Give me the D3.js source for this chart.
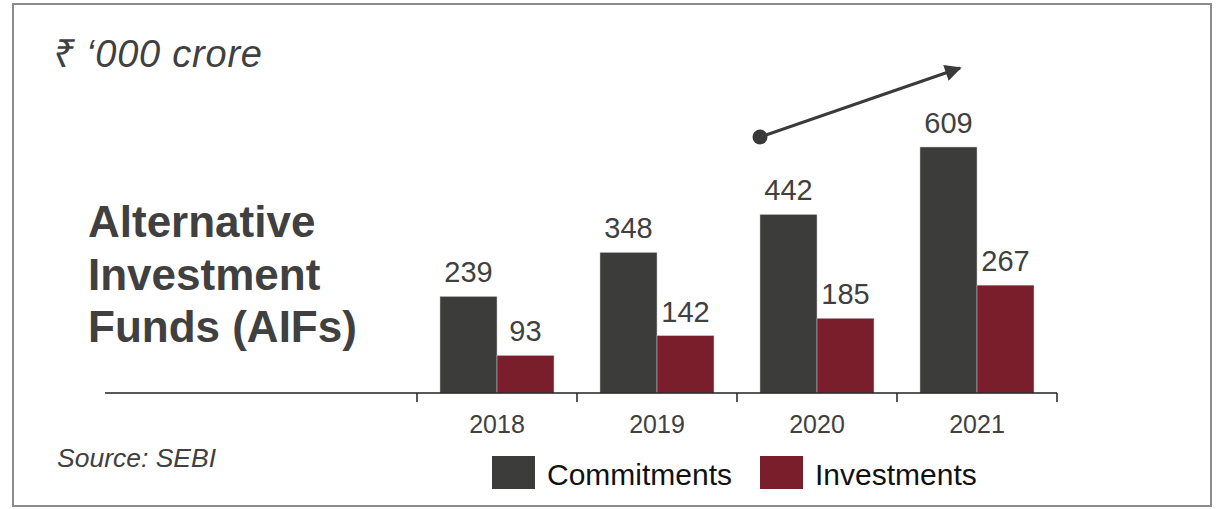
<!DOCTYPE html>
<html lang="en">
<head>
<meta charset="UTF-8">
<title>Alternative Investment Funds (AIFs)</title>
<style>
  body { margin: 0; background: #fff; }
  text { font-family: "Liberation Sans", Arial, "Noto Sans", sans-serif; }
</style>
</head>
<body>
<script src="https://d3js.org/d3.v7.min.js"></script>
<div id="my_dataviz"></div>
<script>

// data
var years = ["2018", "2019", "2020", "2021"];
var seriesNames = ["Commitments", "Investments"];
var commitments = [239, 348, 442, 609];
var investments = [93, 142, 185, 267];
var titleLines = ["Alternative", "Investment", "Funds (AIFs)"];

var colors = { Commitments: "#3c3c3b", Investments: "#7a1e2b" };

var W = 1223, H = 509;
var baseY = 393;

var svg = d3.select("#my_dataviz")
  .append("svg")
    .attr("width", W)
    .attr("height", H);

// outer frame
svg.append("rect")
  .attr("x", 13).attr("y", 4)
  .attr("width", 1198).attr("height", 502)
  .attr("fill", "#fff")
  .attr("stroke", "#8c8c8c")
  .attr("stroke-width", 2);

// scales
var x = d3.scaleBand()
  .domain(years)
  .range([417, 1057])
  .padding(0);

var x1 = d3.scaleBand()
  .domain(seriesNames)
  .range([23, 137])
  .padding(0);

var y = d3.scaleLinear()
  .domain([0, 609])
  .range([baseY, 147]);

var rows = years.map(function(yr, i) {
  return { year: yr, Commitments: commitments[i], Investments: investments[i] };
});

// bars
var groups = svg.append("g")
  .selectAll("g")
  .data(rows)
  .enter()
  .append("g")
    .attr("transform", function(d) { return "translate(" + x(d.year) + ",0)"; });

var cells = groups.selectAll("g")
  .data(function(d) { return seriesNames.map(function(k) { return { key: k, value: d[k] }; }); })
  .enter()
  .append("g");

cells.append("rect")
  .attr("x", function(d) { return x1(d.key); })
  .attr("y", function(d) { return y(d.value); })
  .attr("width", x1.bandwidth())
  .attr("height", function(d) { return baseY - y(d.value); })
  .attr("fill", function(d) { return colors[d.key]; })
  .attr("stroke", "#c8c8c8")
  .attr("stroke-width", 0.5);

// value labels
cells.append("text")
  .attr("x", function(d) { return x1(d.key) + x1.bandwidth() / 2; })
  .attr("y", function(d) { return y(d.value) - 14; })
  .attr("text-anchor", "middle")
  .style("font-size", "29px")
  .style("fill", "#404040")
  .text(function(d) { return d.value; });

// baseline (extends left under the title)
svg.append("line")
  .attr("x1", 105).attr("x2", x.range()[1])
  .attr("y1", baseY).attr("y2", baseY)
  .attr("stroke", "#222")
  .attr("stroke-width", 1.5);

// tick marks between categories
var tickPos = years.map(function(d) { return x(d); }).concat([x.range()[1]]);
svg.selectAll("tickmark")
  .data(tickPos)
  .enter()
  .append("line")
    .attr("x1", function(d) { return d; })
    .attr("x2", function(d) { return d; })
    .attr("y1", baseY)
    .attr("y2", baseY + 9)
    .attr("stroke", "#222")
    .attr("stroke-width", 1.5);

// year labels
svg.selectAll("yearlabel")
  .data(years)
  .enter()
  .append("text")
    .attr("x", function(d) { return x(d) + x.bandwidth() / 2; })
    .attr("y", 433)
    .attr("text-anchor", "middle")
    .style("font-size", "25px")
    .style("fill", "#404040")
    .text(function(d) { return d; });

// unit label
svg.append("text")
  .attr("x", 53).attr("y", 67)
  .style("font-size", "38px")
  .style("font-style", "italic")
  .style("fill", "#404040")
  .attr("textLength", 209)
  .text("\u20B9 \u2018000 crore");

// big title
svg.selectAll("titleline")
  .data(titleLines)
  .enter()
  .append("text")
    .attr("x", 88)
    .attr("y", function(d, i) { return 237 + i * 52.5; })
    .style("font-size", "44px")
    .style("font-weight", "bold")
    .style("fill", "#404040")
    .text(function(d) { return d; });

// source
svg.append("text")
  .attr("x", 57).attr("y", 467)
  .style("font-size", "26.5px")
  .style("font-style", "italic")
  .style("fill", "#404040")
  .text("Source: SEBI");

// growth arrow
svg.append("defs").append("marker")
  .attr("id", "arrowhead")
  .attr("viewBox", "0 0 10 10")
  .attr("refX", 9).attr("refY", 5)
  .attr("markerWidth", 6.5).attr("markerHeight", 5.5)
  .attr("markerUnits", "strokeWidth")
  .attr("orient", "auto")
  .append("path")
    .attr("d", "M0,0 L10,5 L0,10 Z")
    .attr("fill", "#3a3a3a");

svg.append("line")
  .attr("x1", 760).attr("y1", 137)
  .attr("x2", 960).attr("y2", 68)
  .attr("stroke", "#3a3a3a")
  .attr("stroke-width", 3)
  .attr("marker-end", "url(#arrowhead)");

svg.append("circle")
  .attr("cx", 760).attr("cy", 137)
  .attr("r", 7.5)
  .attr("fill", "#3a3a3a");

// legend
var legendX = [492, 760];
var legend = svg.selectAll("legend")
  .data(seriesNames)
  .enter()
  .append("g")
    .attr("transform", function(d, i) { return "translate(" + legendX[i] + ",456)"; });

legend.append("rect")
  .attr("width", 43)
  .attr("height", 33)
  .attr("fill", function(d) { return colors[d]; });

legend.append("text")
  .attr("x", 55)
  .attr("y", 29)
  .style("font-size", "30px")
  .style("fill", "#111")
  .text(function(d) { return d; });

</script>
</body>
</html>
